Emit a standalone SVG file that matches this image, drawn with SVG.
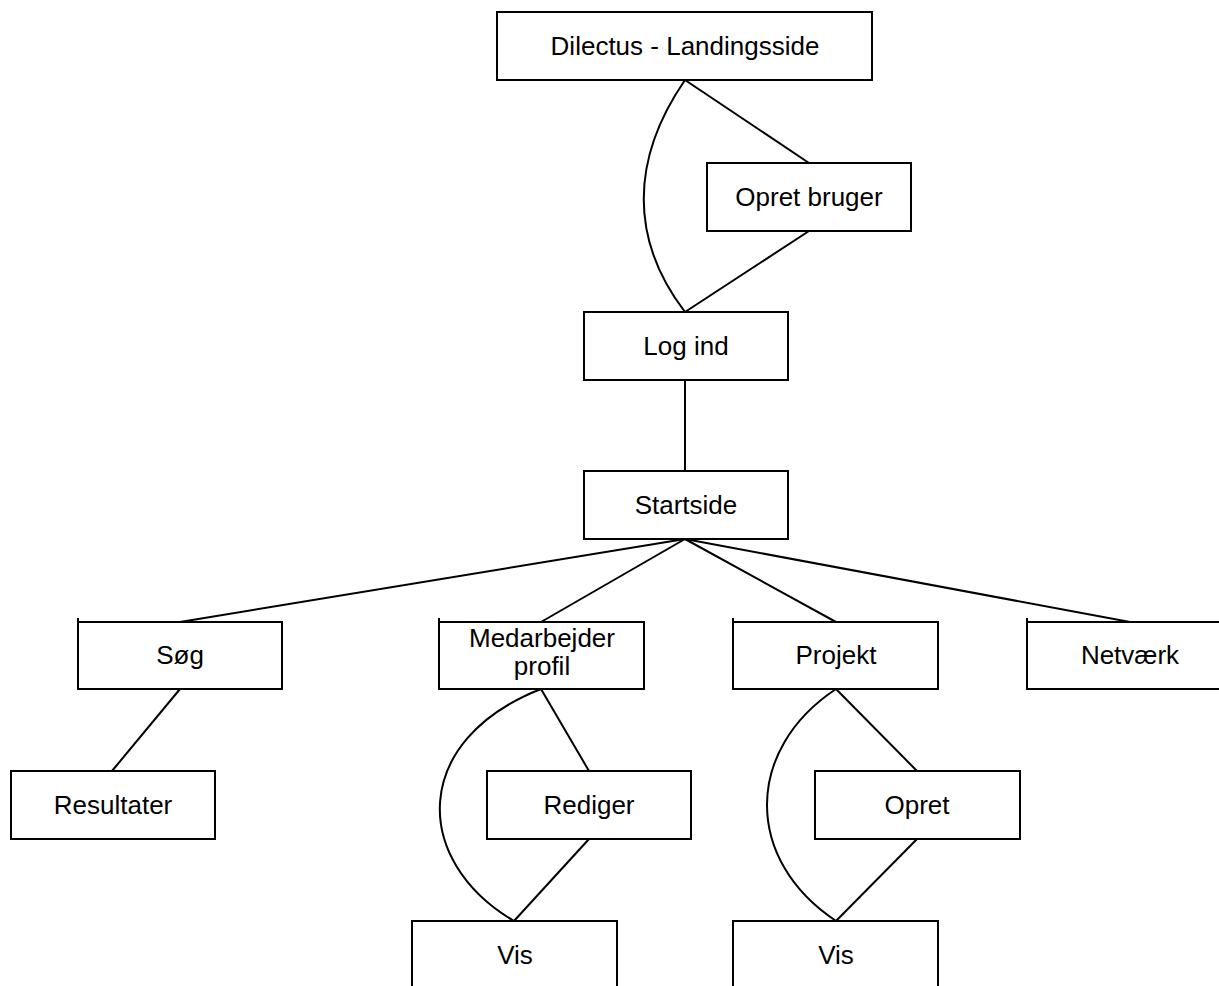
<svg xmlns="http://www.w3.org/2000/svg" width="1219" height="986" viewBox="0 0 1219 986">
  <style>
    .box { fill: #ffffff; stroke: #000000; stroke-width: 2; }
    .tick { stroke: #000000; stroke-width: 2; }
    .label { font-family: "Liberation Sans", Arial, Helvetica, sans-serif; font-size: 26px; fill: #000000; text-anchor: middle; }
    .edge { fill: none; stroke: #000000; stroke-width: 2; }
  </style>
  <rect x="0" y="0" width="1219" height="986" fill="#ffffff"/>

  <!-- connectors -->
  <g id="connectors">
    <line class="edge" x1="685" y1="80" x2="809" y2="163"/>
    <line class="edge" x1="809" y1="231" x2="685" y2="312"/>
    <path class="edge" d="M685,80 C630,160 630,240 685,312"/>
    <line class="edge" x1="685" y1="380" x2="685" y2="471"/>
    <line class="edge" x1="685" y1="539" x2="180" y2="622"/>
    <line class="edge" x1="685" y1="539" x2="541" y2="622"/>
    <line class="edge" x1="685" y1="539" x2="836" y2="622"/>
    <line class="edge" x1="685" y1="539" x2="1130" y2="622"/>
    <line class="edge" x1="180" y1="689" x2="112" y2="771"/>
    <line class="edge" x1="541" y1="689" x2="589" y2="771"/>
    <line class="edge" x1="589" y1="839" x2="514" y2="921"/>
    <path class="edge" d="M541,689 C411,740 411,860 514,921"/>
    <line class="edge" x1="836" y1="689" x2="917" y2="771"/>
    <line class="edge" x1="917" y1="839" x2="836" y2="921"/>
    <path class="edge" d="M836,689 C744,750 744,860 836,921"/>
  </g>

  <!-- nodes -->
  <g id="landingsside">
    <rect class="box" x="497" y="12" width="375" height="68"/>
    <text class="label" x="685" y="55">Dilectus - Landingsside</text>
  </g>
  <g id="opret-bruger">
    <rect class="box" x="707" y="163" width="204" height="68"/>
    <text class="label" x="809" y="206">Opret bruger</text>
  </g>
  <g id="log-ind">
    <rect class="box" x="584" y="312" width="204" height="68"/>
    <text class="label" x="686" y="355">Log ind</text>
  </g>
  <g id="startside">
    <rect class="box" x="584" y="471" width="204" height="68"/>
    <text class="label" x="686" y="514">Startside</text>
  </g>
  <g id="soeg">
    <rect class="box" x="78" y="622" width="204" height="67"/>
    <line class="tick" x1="78" y1="618" x2="78" y2="622"/>
    <text class="label" x="180" y="664">Søg</text>
  </g>
  <g id="medarbejder-profil">
    <rect class="box" x="439" y="622" width="205" height="67"/>
    <line class="tick" x1="439" y1="618" x2="439" y2="622"/>
    <text class="label" x="542" y="647">Medarbejder</text>
    <text class="label" x="542" y="675">profil</text>
  </g>
  <g id="projekt">
    <rect class="box" x="733" y="622" width="205" height="67"/>
    <line class="tick" x1="733" y1="618" x2="733" y2="622"/>
    <text class="label" x="836" y="664">Projekt</text>
  </g>
  <g id="netvaerk">
    <rect class="box" x="1027" y="622" width="205" height="67"/>
    <line class="tick" x1="1027" y1="618" x2="1027" y2="622"/>
    <text class="label" x="1130" y="664">Netværk</text>
  </g>
  <g id="resultater">
    <rect class="box" x="11" y="771" width="204" height="68"/>
    <text class="label" x="113" y="814">Resultater</text>
  </g>
  <g id="rediger">
    <rect class="box" x="487" y="771" width="204" height="68"/>
    <text class="label" x="589" y="814">Rediger</text>
  </g>
  <g id="opret">
    <rect class="box" x="815" y="771" width="205" height="68"/>
    <text class="label" x="917" y="814">Opret</text>
  </g>
  <g id="vis-medarbejder">
    <rect class="box" x="412" y="921" width="205" height="80"/>
    <text class="label" x="515" y="964">Vis</text>
  </g>
  <g id="vis-projekt">
    <rect class="box" x="733" y="921" width="205" height="80"/>
    <text class="label" x="836" y="964">Vis</text>
  </g>
</svg>
